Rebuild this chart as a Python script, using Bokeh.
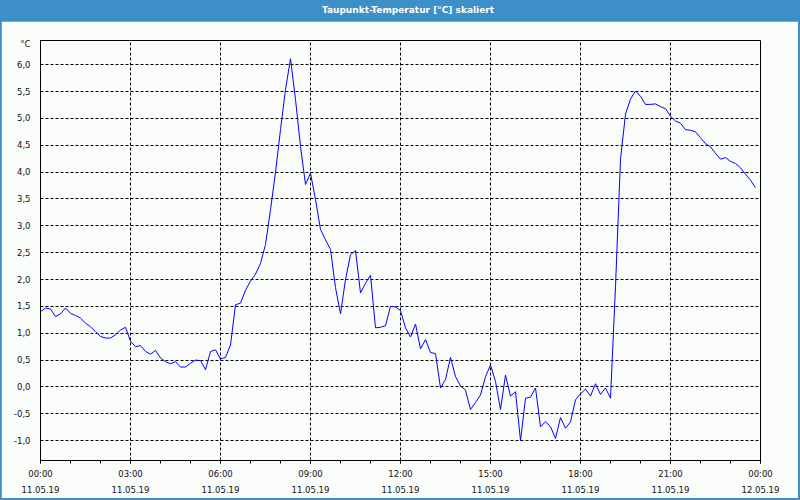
from bokeh.plotting import figure
from bokeh.models import FixedTicker, CustomJSTickFormatter, Div
from bokeh.layouts import column
from bokeh.embed import file_html
from bokeh.resources import INLINE

title_text = "Taupunkt-Temperatur [°C] skaliert"
unit_text = "°C"

# dew point values, one every 10 minutes from 11.05.19 00:00 to 23:50
dew = [
    1.40, 1.47, 1.45, 1.31, 1.36, 1.47, 1.37, 1.33, 1.28, 1.19,
    1.12, 1.03, 0.94, 0.91, 0.91, 0.97, 1.06, 1.11, 0.85, 0.75,
    0.77, 0.66, 0.61, 0.68, 0.54, 0.47, 0.43, 0.47, 0.37, 0.37,
    0.44, 0.50, 0.49, 0.32, 0.66, 0.69, 0.52, 0.55, 0.78, 1.53,
    1.56, 1.80, 1.97, 2.10, 2.30, 2.65, 3.30, 4.00, 4.79, 5.54,
    6.11, 5.35, 4.48, 3.77, 3.98, 3.49, 2.93, 2.74, 2.56, 1.85,
    1.36, 2.00, 2.46, 2.54, 1.75, 1.93, 2.08, 1.10, 1.11, 1.14,
    1.50, 1.49, 1.42, 1.10, 0.93, 1.17, 0.71, 0.88, 0.64, 0.62,
    -0.02, 0.14, 0.55, 0.19, 0.02, -0.06, -0.42, -0.29, -0.15, 0.19,
    0.41, 0.10, -0.42, 0.22, -0.17, -0.09, -1.00, -0.21, -0.19, -0.02,
    -0.74, -0.65, -0.74, -0.96, -0.57, -0.77, -0.65, -0.24, -0.13, -0.04,
    -0.17, 0.06, -0.14, -0.02, -0.21, 1.87, 4.24, 5.08, 5.36, 5.51,
    5.41, 5.26, 5.26, 5.27, 5.22, 5.18, 5.04, 4.95, 4.91, 4.79,
    4.78, 4.75, 4.64, 4.53, 4.47, 4.35, 4.24, 4.27, 4.20, 4.16,
    4.08, 3.96, 3.85, 3.71,
]
hours = [i / 6 for i in range(len(dew))]

x_ticks = [0, 3, 6, 9, 12, 15, 18, 21, 24]
x_minor = list(range(25))
x_tick_labels = [
    "00:00\n11.05.19", "03:00\n11.05.19", "06:00\n11.05.19",
    "09:00\n11.05.19", "12:00\n11.05.19", "15:00\n11.05.19",
    "18:00\n11.05.19", "21:00\n11.05.19", "00:00\n12.05.19",
]
y_ticks = [-1.0, -0.5, 0.0, 0.5, 1.0, 1.5, 2.0, 2.5, 3.0, 3.5, 4.0, 4.5, 5.0, 5.5, 6.0]
unit_tick = 6.385
y_min, y_max = -1.37, 6.45

BG = "#fafcfa"
BLUE = "#3c8fc7"
FONT = "DejaVu Sans"
FS = "8.5px"

p = figure(
    frame_width=720, frame_height=420,
    x_range=(0, 24), y_range=(y_min, y_max),
    output_backend="svg", toolbar_location=None,
    min_border_left=39, min_border_right=38,
    min_border_top=19, min_border_bottom=38,
    background_fill_color=BG, border_fill_color=BG,
    margin=(0, 2, 2, 1),
)
p.outline_line_color = "black"
p.outline_line_width = 1

p.line(hours, dew, line_color="#0000ff", line_width=1)

xa = p.xaxis[0]
xa.ticker = FixedTicker(ticks=x_ticks, minor_ticks=x_minor)
xa.major_label_overrides = dict(zip(x_ticks, x_tick_labels))
xa.major_tick_in = 0
xa.major_tick_out = 3
xa.minor_tick_in = 0
xa.minor_tick_out = 3
xa.major_tick_line_color = "black"
xa.minor_tick_line_color = "black"
xa.axis_line_color = "black"
xa.major_label_standoff = 5
xa.major_label_text_font = FONT
xa.major_label_text_font_size = FS
xa.major_label_text_color = "#111111"
xa.major_label_text_line_height = 1.6

ya = p.yaxis[0]
ya.ticker = FixedTicker(ticks=y_ticks + [unit_tick])
ya.formatter = CustomJSTickFormatter(code="return tick.toFixed(1).replace('.', ',');")
ya.major_label_overrides = {unit_tick: unit_text}
ya.major_tick_line_color = None
ya.minor_tick_line_color = None
ya.axis_line_color = "black"
ya.major_label_standoff = 4
ya.major_label_text_font = FONT
ya.major_label_text_font_size = FS
ya.major_label_text_color = "#111111"

for g in (p.xgrid[0], p.ygrid[0]):
    g.grid_line_color = "black"
    g.grid_line_dash = "3 2"
    g.grid_line_width = 1
p.xgrid[0].ticker = FixedTicker(ticks=x_ticks)
p.ygrid[0].ticker = FixedTicker(ticks=y_ticks)

title = Div(
    text=title_text, width=800, height=21, margin=0,
    styles={
        "background-color": BLUE, "color": "white", "font-weight": "bold",
        "font-family": FONT, "font-size": "9px", "text-align": "center",
        "line-height": "21px", "text-indent": "16px",
    },
)

layout = column(title, p, spacing=0, margin=0, styles={"background-color": BLUE})

open("out.html", "w").write(file_html(layout, INLINE))
